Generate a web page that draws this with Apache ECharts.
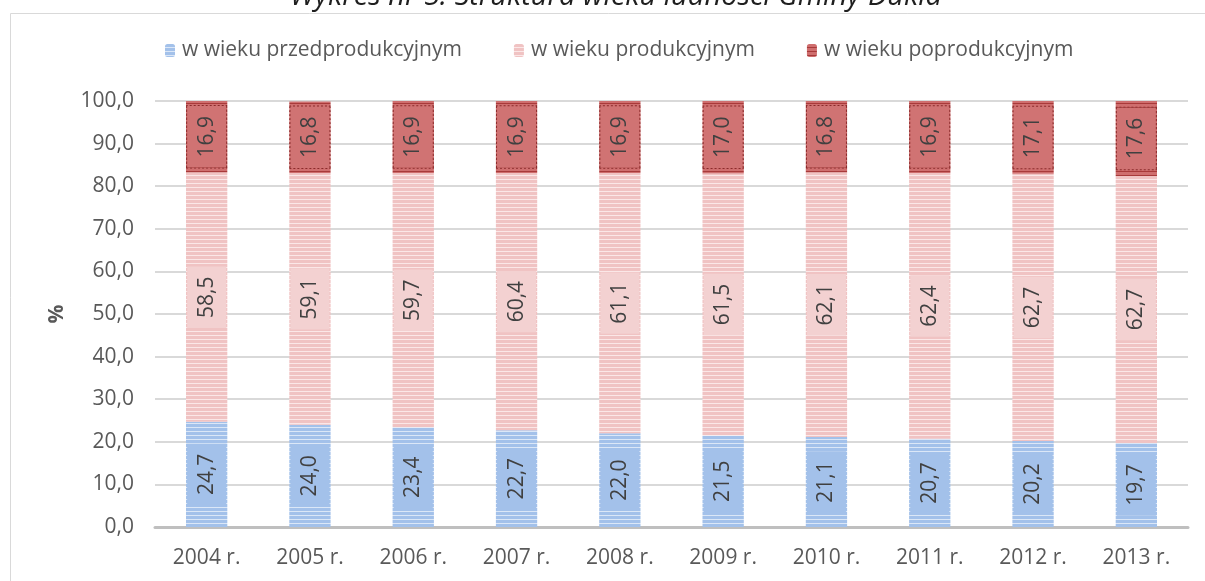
<!DOCTYPE html>
<html><head><meta charset="utf-8">
<script src="https://cdn.jsdelivr.net/npm/echarts@6/dist/echarts.min.js"></script>
<style>html,body{margin:0;padding:0;background:#fff}#c{width:1205px;height:581px}</style>
</head><body><div id="c"></div>
<script>
const categories = ['2004 r.','2005 r.','2006 r.','2007 r.','2008 r.','2009 r.','2010 r.','2011 r.','2012 r.','2013 r.'];
const preProd = [24.7,24.0,23.4,22.7,22.0,21.5,21.1,20.7,20.2,19.7];
const prod = [58.5,59.1,59.7,60.4,61.1,61.5,62.1,62.4,62.7,62.7];
const postProd = [16.9,16.8,16.9,16.9,16.9,17.0,16.8,16.9,17.1,17.6];
const seriesNames = ['w wieku przedprodukcyjnym','w wieku produkcyjnym','w wieku poprodukcyjnym'];

function stripes(base, line){
  const c = document.createElement('canvas'); c.width = 4; c.height = 4;
  const g = c.getContext('2d');
  g.fillStyle = base; g.fillRect(0,0,4,4);
  g.fillStyle = line; g.fillRect(0,3,4,1);
  return {image: c, repeat: 'repeat'};
}
const FONT = 'Open Sans';
const TXT = '#595959';
const FS = 21;
const fmt = v => v.toFixed(1).replace('.', ',');

const cols = [
  {base:'#a3c1ea', line:'#dbe7f7', solid:'#a3c1ea'},
  {base:'#f0c3c3', line:'#fbe7e7', solid:'#f3d1d1'},
  {base:'#cf6e6e', line:'#a83a3a', solid:'#d07373'}
];
const datas = [preProd, prod, postProd];

const chart = echarts.init(document.getElementById('c'));
chart.setOption({
  animation: false,
  title: {
    text: 'Wykres nr 5. Struktura wieku ludności Gminy Dukla',
    left: 285, top: -23,
    textStyle: {fontFamily: FONT, fontStyle: 'italic', fontWeight: 'normal', fontSize: 29, color: '#1f1f1f'}
  },
  graphic: [{
    type: 'rect', left: 8, top: 11, shape: {width: 1300, height: 700},
    style: {fill: 'none', stroke: '#d9d9d9', lineWidth: 1}, silent: true
  }],
  legend: {
    top: 35, left: 160, itemWidth: 10, itemHeight: 13, itemGap: 52,
    textStyle: {fontFamily: FONT, fontSize: FS, color: TXT, padding: [0,0,0,2]},
    data: seriesNames.map((n,i)=>({name:n, itemStyle:{color: stripes(cols[i].base, cols[i].line)}}))
  },
  grid: {left: 155, right: 17, top: 101, bottom: 54},
  xAxis: {
    type: 'category', data: categories,
    axisLine: {lineStyle: {color: '#bfbfbf', width: 3}},
    axisTick: {show: false},
    axisLabel: {fontFamily: FONT, fontSize: FS, color: TXT, margin: 21}
  },
  yAxis: {
    type: 'value', min: 0, max: 100, interval: 10,
    name: '%', nameLocation: 'middle', nameGap: 87, nameRotate: 90,
    nameTextStyle: {fontFamily: FONT, fontSize: FS, fontWeight: 'bold', color: TXT},
    axisLine: {show: false}, axisTick: {show: false},
    splitLine: {lineStyle: {color: '#d9d9d9', width: 2}},
    axisLabel: {fontFamily: FONT, fontSize: FS, color: TXT, margin: 21, formatter: v => fmt(v)}
  },
  series: seriesNames.map((n,i)=>({
    name: n, type: 'bar', stack: 'a', barWidth: '40%',
    data: datas[i],
    itemStyle: {color: stripes(cols[i].base, cols[i].line)},
    label: {
      show: true, position: 'inside', rotate: 90,
      fontFamily: FONT, fontSize: FS, color: '#404040',
      formatter: p => fmt(p.value),
      backgroundColor: cols[i].solid,
      padding: [10, 10, 8, 10],
      borderColor: i === 2 ? '#8a2b2b' : 'transparent', borderWidth: i === 2 ? 1 : 0,
      borderType: 'dotted'
    }
  }))
});
</script></body></html>
